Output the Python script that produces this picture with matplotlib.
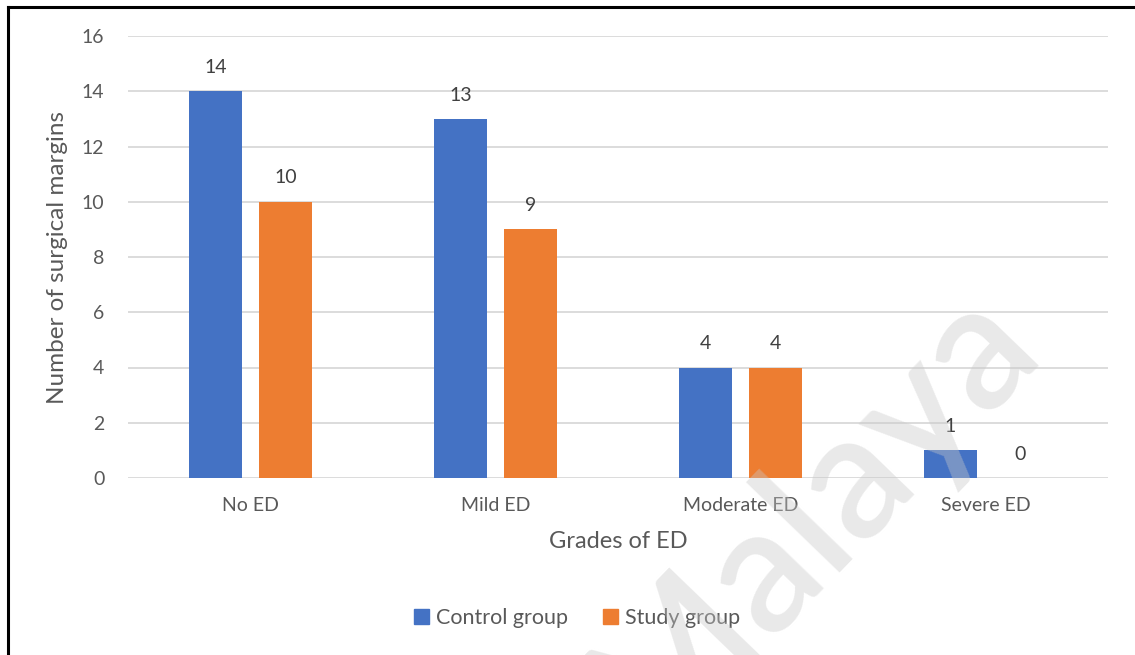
import matplotlib.pyplot as plt
import matplotlib.patches as mpatches
from matplotlib.lines import Line2D
import numpy as np

# surgical margins per ED grade
grades = ["No ED", "Mild ED", "Moderate ED", "Severe ED"]
control = [14, 13, 4, 1]
study = [10, 9, 4, 0]
series_names = ["Control group", "Study group"]

blue = "#4472C4"
orange = "#ED7D31"
txt = "#595959"

plt.rcParams["font.family"] = ["Lato", "DejaVu Sans"]

fig = plt.figure(figsize=(11.35, 6.55), dpi=100)
ax = fig.add_axes([128/1135, 1-478/655, 980/1135, 442/655])

x = np.arange(len(grades))
w = 0.22
off = 0.143
b1 = ax.bar(x - off, control, w, color=blue, zorder=3)
b2 = ax.bar(x + off, study, w, color=orange, zorder=3)

for bars, vals in [(b1, control), (b2, study)]:
    for r, v in zip(bars, vals):
        ax.annotate(str(v), (r.get_x() + r.get_width()/2, v),
                    xytext=(0, 11), textcoords="offset points",
                    ha="center", va="bottom", fontsize=14, color="#404040")

ax.set_xlim(-0.5, 3.5)
ax.set_ylim(0, 16)
ax.set_yticks(range(0, 17, 2))
ax.set_xticks(x)
ax.set_xticklabels(grades)
ax.tick_params(axis="both", length=0, labelsize=14, colors=txt)
ax.tick_params(axis="y", pad=17)
ax.tick_params(axis="x", pad=14)
ax.grid(axis="y", color="#d9d9d9", linewidth=1.3, zorder=0)
for s in ax.spines.values():
    s.set_visible(False)

ax.set_xlabel("Grades of ED", fontsize=17, color=txt, labelpad=12)
ax.set_ylabel("Number of surgical margins", fontsize=17.5, color=txt, labelpad=10)

handles = [mpatches.Patch(color=blue), mpatches.Patch(color=orange)]
fig.legend(handles, series_names, loc="center", bbox_to_anchor=(577/1135, 1-618/655),
           ncol=2, frameon=False, fontsize=15.5, handlelength=0.7, handleheight=0.7,
           handletextpad=0.35, columnspacing=1.6, labelcolor=txt)

# page watermark
fig.text(0.715, 0.215, "Malaya", fontsize=126, fontweight="semibold", color="#c8c8c8",
         alpha=0.4, rotation=46, ha="center", va="center", zorder=10)

# frame lines on left and top
fig.add_artist(Line2D([8/1135, 8/1135], [0, 1-7/655], color="black", linewidth=2.2))
fig.add_artist(Line2D([8/1135, 1], [1-7/655, 1-7/655], color="black", linewidth=2.2))

fig.savefig("out.png", dpi=100)
